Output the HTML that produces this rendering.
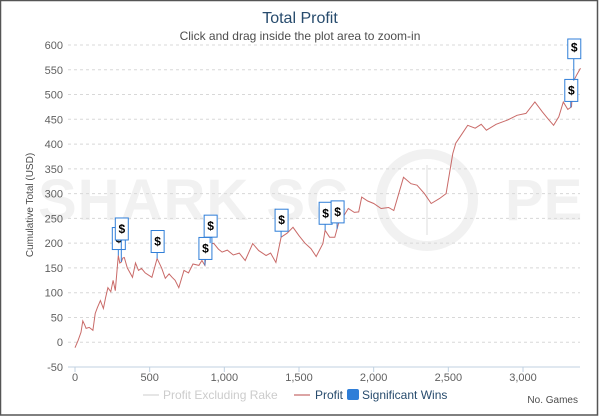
<!DOCTYPE html>
<html><head><meta charset="utf-8"><style>
html,body{margin:0;padding:0;background:#fff;}
svg{display:block;font-family:"Liberation Sans",sans-serif;}
</style></head><body>
<svg id="chart" width="600" height="417" viewBox="0 0 600 417">
<rect x="0.5" y="0.5" width="597" height="414.5" fill="#fff" stroke="#555" stroke-width="1.5"/>
<g fill="#f1f1f1">
<text x="38" y="220" font-size="58" font-weight="bold" letter-spacing="1">SHARK SC</text>
<text x="505" y="220" font-size="58" font-weight="bold">PE</text>
<circle cx="427" cy="200" r="46" fill="none" stroke="#f1f1f1" stroke-width="10"/>
<line x1="427" y1="165" x2="427" y2="235" stroke="#eeeeee" stroke-width="2"/>
</g>
<text x="300" y="23" text-anchor="middle" font-size="16" fill="#274b6d">Total Profit</text>
<text x="300" y="40" text-anchor="middle" font-size="12" fill="#4d4d4d">Click and drag inside the plot area to zoom-in</text>
<text transform="translate(33,205) rotate(-90)" text-anchor="middle" font-size="10" fill="#4d4d4d">Cumulative Total (USD)</text>
<text x="578" y="403" text-anchor="end" font-size="10" fill="#4d4d4d">No. Games</text>
<g id="grid"></g><g id="axes"></g><g id="series"></g><g id="flags"></g>
<g>
<g>
<line x1="143" y1="395" x2="159" y2="395" stroke="#ccc" stroke-width="1"/>
<text x="163" y="399" font-size="12" fill="#ccc">Profit Excluding Rake</text></g>
<g>
<line x1="294" y1="395" x2="310" y2="395" stroke="#b94a48" stroke-width="1"/>
<text x="315" y="399" font-size="12" fill="#274b6d">Profit</text></g>
<g>
<rect x="347" y="389" width="12" height="11" rx="2" fill="#2f7ed8"/>
<text x="362" y="399" font-size="12" fill="#274b6d">Significant Wins</text></g>
</g>
</svg>
<script>
const games=[0,20,40,52,65,74,95,120,135,150,170,190,205,220,240,255,270,290,300,310,320,330,350,385,405,425,445,470,515,550,580,605,630,650,670,695,730,760,790,830,850,870,880,905,930,960,985,1020,1060,1100,1140,1190,1230,1280,1310,1345,1380,1420,1460,1500,1540,1580,1615,1660,1675,1705,1740,1765,1800,1830,1870,1900,1920,1960,2000,2050,2100,2135,2200,2250,2290,2340,2385,2440,2485,2530,2550,2590,2630,2680,2720,2755,2820,2900,2960,3020,3080,3130,3170,3205,3240,3270,3300,3325,3335,3360,3385];
const profit=[-11,3,20,43,35,28,30,24,58,70,84,68,90,110,102,125,104,175,160,162,170,171,150,131,160,145,149,140,131,169,150,129,138,131,125,110,145,140,158,155,165,155,181,200,199,188,182,186,176,180,165,199,185,175,180,161,212,220,232,215,200,189,173,199,226,212,212,240,255,270,262,263,293,285,280,270,272,266,333,320,317,300,280,290,300,381,402,420,438,432,440,428,440,449,458,462,485,465,450,438,455,485,470,475,525,540,553];
const winGames=[290,310,550,870,905,1380,1675,1755,3320,3340];
const yTicks=[-50,0,50,100,150,200,250,300,350,400,450,500,550,600];
const xTicks=[0,500,1000,1500,2000,2500,3000];
const xTickLabels=["0","500","1,000","1,500","2,000","2,500","3,000"];
const NS="http://www.w3.org/2000/svg";
const L=68,R=580,T=45,B=367;
const x=g=>75+g*(523-75)/3000;
const y=v=>B-(v+50)*(B-T)/650;
function mk(tag,attrs,parent){const e=document.createElementNS(NS,tag);for(const k in attrs)e.setAttribute(k,attrs[k]);parent.appendChild(e);return e;}
const grid=document.getElementById('grid'),axes=document.getElementById('axes');
yTicks.forEach(v=>{
  const ln=mk('line',{x1:L,x2:R,y1:y(v),y2:y(v),stroke:'#d8d8d8','stroke-dasharray':'3,3'},grid);
  
  
  const t=mk('text',{x:63,y:y(v)+4,'text-anchor':'end','font-size':11,fill:'#606060'},axes);
  t.textContent=v;
  
  
});
const ax=mk('line',{x1:L,x2:R,y1:B,y2:B,stroke:'#c0d0e0'},axes);


xTicks.forEach((g,i)=>{
  const tk=mk('line',{x1:x(g),x2:x(g),y1:B,y2:B+5,stroke:'#c0d0e0'},axes);
  
  
  const t=mk('text',{x:x(g),y:B+14,'text-anchor':'middle','font-size':11,fill:'#606060'},axes);
  t.textContent=xTickLabels[i];
  
  
});
const d=games.map((g,i)=>(i?'L':'M')+x(g).toFixed(1)+','+y(profit[i]).toFixed(1)).join('');
const p=mk('path',{d:d,fill:'none',stroke:'#c0504d','stroke-width':1,'stroke-opacity':0.85},document.getElementById('series'));


function valAt(g){for(let i=1;i<games.length;i++){if(g<=games[i]){const f=(g-games[i-1])/(games[i]-games[i-1]);return profit[i-1]+f*(profit[i]-profit[i-1]);}}return profit[profit.length-1];}
const fl=document.getElementById('flags');let prevX=-99,stack=0;
winGames.forEach(g=>{
  const px=x(g),py=y(valAt(g));
  stack=(px-prevX<5)?stack+1:0;prevX=px;
  const bottom=py-6-stack*16;
  const grp=mk('g',{},fl);
  
  
  mk('line',{x1:px,x2:px,y1:bottom,y2:py,stroke:'#2f7ed8'},grp);
  const top=Math.max(bottom-22,T-6);
  mk('rect',{x:px-6,y:top,width:13,height:bottom-top,fill:'#fff',stroke:'#2f7ed8','stroke-width':1},grp);
  const t=mk('text',{x:px+0.5,y:bottom-7,'text-anchor':'middle','font-size':12,'font-weight':'bold',fill:'#000'},grp);
  t.textContent='$';
});
</script>
</body></html>
